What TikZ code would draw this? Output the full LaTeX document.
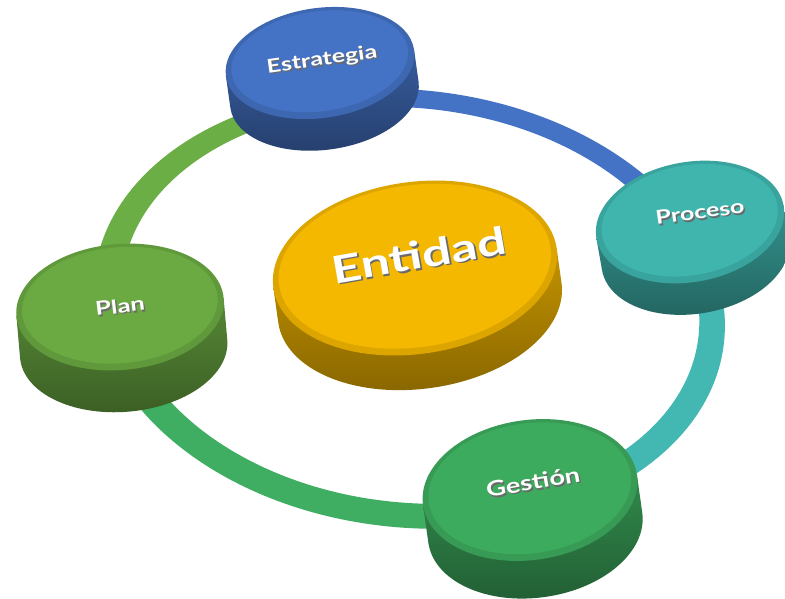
\documentclass[tikz,border=0pt]{standalone}
\usepackage{fontspec}
\setmainfont{Lato}
\usetikzlibrary{calc}
\definecolor{cblue}{HTML}{4472C4}
\definecolor{cteal}{HTML}{3FB5AE}
\definecolor{cgreen}{HTML}{3DAB5E}
\definecolor{clgreen}{HTML}{6BAA42}
\definecolor{cgold}{HTML}{F5B800}
\definecolor{rblue}{HTML}{4472C4}
\definecolor{rteal}{HTML}{43B8B3}
\definecolor{rgreen}{HTML}{3FAE62}
\definecolor{rlgreen}{HTML}{6BAE45}
\definecolor{shadowgray}{HTML}{6A6A6A}
\tikzset{
  lbltext/.style={text=white, inner sep=0pt},
  lblshadow/.style={text=shadowgray, inner sep=0pt}
}
\newcommand\drawdisc[7]{%
\begin{scope}[shift={(#1,#2)}, rotate=#6]
\pgfmathsetmacro\irx{#3-6}
\pgfmathsetmacro\iry{#4-5}
\shade[top color=#7!80!black, bottom color=#7!55!black]
  (-#3,0) -- (-#3,-#5) arc[start angle=180, end angle=360, x radius=#3, y radius=#4] -- (#3,0) -- cycle;
\fill[#7!90!black] (0,0) ellipse[x radius=#3, y radius=#4];
\fill[#7] (0,1.8) ellipse[x radius=\irx, y radius=\iry];
\end{scope}}
\newcommand\disclabel[7]{%
\node[lblshadow, font=\bfseries\fontsize{#5}{#5}\selectfont, rotate=#4, xscale=#7] (#1-s) at (#2+1.5,#3-1.5) {#6};
\node[lbltext, font=\bfseries\fontsize{#5}{#5}\selectfont, rotate=#4, xscale=#7] (#1) at (#2,#3) {#6};}
\newcommand\ringpart[2]{%
\begin{scope}
\clip #2;
\begin{scope}[rotate around={-6:(cC)}]
\fill[#1, even odd rule] (409.5,-308.75) ellipse[x radius=316.5, y radius=218.75]
  (410.5,-305.25) ellipse[x radius=289.5, y radius=197.25];
\end{scope}
\end{scope}}
\begin{document}
\begin{tikzpicture}[x=1pt,y=1pt]
\useasboundingbox (0,0) rectangle (785,-598);
% centres
\coordinate (cC) at (410,-307);
\coordinate (cEst) at (320,-63);
\coordinate (cPro) at (690,-222);
\coordinate (cGes) at (530,-490);
\coordinate (cPla) at (120,-307);
\coordinate (cEnt) at (415,-268);
\coordinate (fEst) at ($(cC)!4!(cEst)$);
\coordinate (fPro) at ($(cC)!4!(cPro)$);
\coordinate (fGes) at ($(cC)!4!(cGes)$);
\coordinate (fPla) at ($(cC)!4!(cPla)$);
% ring segments between the discs
\ringpart{rblue}{(cC) -- (fEst) -- (1600,700) -- (fPro) -- cycle}
\ringpart{rteal}{(cC) -- (fPro) -- (1600,-1100) -- (fGes) -- cycle}
\ringpart{rgreen}{(cC) -- (fGes) -- (-800,-1100) -- (fPla) -- cycle}
\ringpart{rlgreen}{(cC) -- (fPla) -- (-800,700) -- (fEst) -- cycle}
% discs
\drawdisc{320}{-63}{95}{55}{32}{8}{cblue}
\drawdisc{690}{-222}{95}{60}{32}{10}{cteal}
\drawdisc{530}{-490}{108}{70}{38}{8}{cgreen}
\drawdisc{120}{-307}{104}{63}{42}{5}{clgreen}
\drawdisc{415}{-268}{143}{86}{35}{8}{cgold}
% labels
\disclabel{est}{322}{-60}{8}{19}{Estrategia}{1.32}
\disclabel{pro}{700}{-212}{8}{19}{Proceso}{1.32}
\disclabel{ges}{533}{-482}{10}{21}{Gestión}{1.3}
\disclabel{pla}{120}{-306}{7}{19}{Plan}{1.35}
\disclabel{ent}{419}{-255}{10}{38}{Entidad}{1.36}
\end{tikzpicture}
\end{document}
